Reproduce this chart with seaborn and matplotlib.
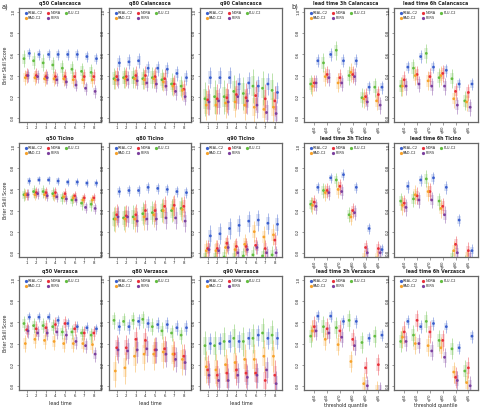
import numpy as np
import pandas as pd
import matplotlib
matplotlib.use("Agg")
import matplotlib.pyplot as plt
import seaborn as sns

# categories
lead_times = [1, 2, 3, 4, 5, 6, 7, 8]
quantiles = ["q50", "q60", "q70", "q80", "q90", "q95"]
series = ["REAL-C2", "NORA", "PLU-C2", "RAD-C2", "PERS"]
colors = {"REAL-C2": "#3a5fcd", "NORA": "#e8303a", "PLU-C2": "#62bd3f",
          "RAD-C2": "#f7a22a", "PERS": "#7b3f9e"}
dodge_order = ["PLU-C2", "RAD-C2", "NORA", "PERS", "REAL-C2"]

# a) Brier skill score vs lead time (median per lead time)
q50_calancasca = {"REAL-C2": [0.61, 0.60, 0.60, 0.60, 0.60, 0.60, 0.58, 0.56],
                  "NORA":    [0.40, 0.40, 0.39, 0.39, 0.39, 0.39, 0.39, 0.39],
                  "PLU-C2":  [0.56, 0.54, 0.52, 0.50, 0.47, 0.46, 0.44, 0.43],
                  "RAD-C2":  [0.38, 0.38, 0.37, 0.37, 0.37, 0.36, 0.36, 0.36],
                  "PERS":    [0.40, 0.39, 0.38, 0.36, 0.34, 0.31, 0.28, 0.25]}
q80_calancasca = {"REAL-C2": [0.52, 0.53, 0.54, 0.47, 0.47, 0.46, 0.42, 0.38],
                  "NORA":    [0.39, 0.39, 0.40, 0.40, 0.39, 0.37, 0.32, 0.27],
                  "PLU-C2":  [0.37, 0.38, 0.38, 0.37, 0.38, 0.36, 0.32, 0.30],
                  "RAD-C2":  [0.36, 0.37, 0.37, 0.36, 0.37, 0.34, 0.30, 0.26],
                  "PERS":    [0.36, 0.36, 0.35, 0.33, 0.32, 0.30, 0.25, 0.20]}
q90_calancasca = {"REAL-C2": [0.38, 0.38, 0.38, 0.32, 0.33, 0.30, 0.32, 0.24],
                  "NORA":    [0.17, 0.18, 0.19, 0.22, 0.19, 0.21, 0.18, 0.16],
                  "PLU-C2":  [0.18, 0.20, 0.20, 0.25, 0.23, 0.30, 0.28, 0.26],
                  "RAD-C2":  [0.12, 0.12, 0.14, 0.15, 0.12, 0.10, 0.08, 0.10],
                  "PERS":    [0.15, 0.16, 0.15, 0.20, 0.16, 0.12, 0.05, 0.04]}
q50_ticino = {"REAL-C2": [0.68, 0.69, 0.69, 0.68, 0.67, 0.67, 0.66, 0.66],
              "NORA":    [0.55, 0.57, 0.57, 0.57, 0.56, 0.54, 0.52, 0.52],
              "PLU-C2":  [0.55, 0.58, 0.58, 0.56, 0.52, 0.50, 0.47, 0.46],
              "RAD-C2":  [0.55, 0.55, 0.55, 0.54, 0.53, 0.52, 0.50, 0.50],
              "PERS":    [0.55, 0.56, 0.54, 0.53, 0.51, 0.50, 0.43, 0.42]}
q80_ticino = {"REAL-C2": [0.58, 0.59, 0.59, 0.62, 0.61, 0.60, 0.58, 0.57],
              "NORA":    [0.36, 0.35, 0.36, 0.40, 0.40, 0.44, 0.45, 0.44],
              "PLU-C2":  [0.32, 0.33, 0.34, 0.37, 0.38, 0.40, 0.40, 0.42],
              "RAD-C2":  [0.32, 0.32, 0.32, 0.34, 0.36, 0.40, 0.42, 0.41],
              "PERS":    [0.34, 0.34, 0.30, 0.32, 0.32, 0.33, 0.33, 0.30]}
q90_ticino = {"REAL-C2": [0.16, 0.18, 0.23, 0.26, 0.30, 0.31, 0.28, 0.27],
              "NORA":    [0.04, 0.04, 0.09, 0.06, 0.06, 0.07, 0.04, 0.12],
              "PLU-C2":  [-0.05, -0.05, -0.04, -0.05, -0.03, -0.02, -0.03, -0.02],
              "RAD-C2":  [0.02, 0.02, 0.05, 0.03, 0.08, 0.20, 0.15, 0.17],
              "PERS":    [0.03, 0.02, 0.05, 0.00, 0.03, 0.05, 0.00, 0.00]}
q50_verzasca = {"REAL-C2": [0.65, 0.65, 0.65, 0.62, 0.59, 0.56, 0.55, 0.54],
                "NORA":    [0.53, 0.54, 0.55, 0.58, 0.59, 0.54, 0.50, 0.50],
                "PLU-C2":  [0.59, 0.57, 0.57, 0.56, 0.51, 0.51, 0.50, 0.48],
                "RAD-C2":  [0.40, 0.44, 0.43, 0.42, 0.40, 0.40, 0.40, 0.39],
                "PERS":    [0.52, 0.50, 0.50, 0.51, 0.48, 0.42, 0.38, 0.30]}
q80_verzasca = {"REAL-C2": [0.56, 0.56, 0.61, 0.59, 0.58, 0.58, 0.55, 0.55],
                "NORA":    [0.36, 0.36, 0.44, 0.43, 0.34, 0.35, 0.30, 0.28],
                "PLU-C2":  [0.62, 0.61, 0.62, 0.63, 0.56, 0.52, 0.50, 0.48],
                "RAD-C2":  [0.14, 0.17, 0.28, 0.30, 0.30, 0.32, 0.30, 0.25],
                "PERS":    [0.34, 0.33, 0.34, 0.35, 0.34, 0.30, 0.25, 0.22]}
q90_verzasca = {"REAL-C2": [0.40, 0.40, 0.42, 0.42, 0.45, 0.48, 0.45, 0.45],
                "NORA":    [0.15, 0.10, 0.12, 0.15, 0.12, 0.12, 0.05, 0.10],
                "PLU-C2":  [0.38, 0.38, 0.42, 0.45, 0.42, 0.45, 0.50, 0.48],
                "RAD-C2":  [0.18, 0.15, 0.20, 0.22, 0.25, 0.25, 0.28, 0.28],
                "PERS":    [0.10, 0.05, 0.05, 0.10, 0.08, 0.10, 0.15, 0.02]}

# b) Brier skill score vs threshold quantile
lt3_calancasca = {"REAL-C2": [0.54, 0.60, 0.54, 0.54, 0.29, 0.29],
                  "NORA":    [0.33, 0.41, 0.38, 0.41, 0.20, 0.22],
                  "PLU-C2":  [0.32, 0.52, 0.64, 0.40, 0.19, 0.29],
                  "RAD-C2":  [0.30, 0.39, 0.33, 0.43, 0.18, 0.16],
                  "PERS":    [0.33, 0.38, 0.33, 0.39, 0.15, 0.12]}
lt6_calancasca = {"REAL-C2": [0.48, 0.58, 0.48, 0.45, 0.32, 0.32],
                  "NORA":    [0.36, 0.41, 0.39, 0.42, 0.25, 0.24],
                  "PLU-C2":  [0.30, 0.47, 0.61, 0.38, 0.37, 0.16],
                  "RAD-C2":  [0.30, 0.40, 0.35, 0.40, 0.18, 0.15],
                  "PERS":    [0.30, 0.32, 0.30, 0.30, 0.12, 0.10]}
lt3_ticino = {"REAL-C2": [0.62, 0.71, 0.74, 0.62, 0.23, 0.03],
              "NORA":    [0.48, 0.59, 0.63, 0.40, 0.05, 0.04],
              "PLU-C2":  [0.46, 0.59, 0.69, 0.36, -0.10, -0.10],
              "RAD-C2":  [0.45, 0.57, 0.60, 0.34, -0.05, -0.05],
              "PERS":    [0.44, 0.57, 0.58, 0.38, 0.00, 0.00]}
lt6_ticino = {"REAL-C2": [0.63, 0.69, 0.71, 0.62, 0.31, 0.02],
              "NORA":    [0.47, 0.54, 0.58, 0.44, 0.08, 0.02],
              "PLU-C2":  [0.49, 0.51, 0.70, 0.49, -0.05, -0.10],
              "RAD-C2":  [0.45, 0.55, 0.58, 0.42, 0.02, -0.05],
              "PERS":    [0.43, 0.50, 0.50, 0.36, 0.00, -0.05]}
lt3_verzasca = {"REAL-C2": [0.66, 0.66, 0.61, 0.61, 0.45, 0.48],
                "NORA":    [0.56, 0.54, 0.52, 0.44, 0.17, 0.20],
                "PLU-C2":  [0.47, 0.56, 0.55, 0.62, 0.41, 0.47],
                "RAD-C2":  [0.52, 0.44, 0.39, 0.23, 0.02, -0.05],
                "PERS":    [0.52, 0.50, 0.46, 0.38, 0.00, -0.05]}
lt6_verzasca = {"REAL-C2": [0.61, 0.56, 0.59, 0.56, 0.36, 0.47],
                "NORA":    [0.51, 0.62, 0.51, 0.43, 0.08, 0.17],
                "PLU-C2":  [0.42, 0.48, 0.61, 0.43, 0.35, 0.14],
                "RAD-C2":  [0.46, 0.40, 0.38, 0.36, 0.13, 0.03],
                "PERS":    [0.42, 0.40, 0.33, 0.27, 0.05, 0.00]}

# approximate half-width of the uncertainty whiskers per panel
# (order: REAL-C2, NORA, PLU-C2, RAD-C2, PERS)
spread = {"q50 Calancasca": [0.05, 0.07, 0.08, 0.07, 0.06],
          "q80 Calancasca": [0.07, 0.09, 0.10, 0.09, 0.08],
          "q90 Calancasca": [0.10, 0.14, 0.16, 0.14, 0.12],
          "q50 Ticino": [0.04, 0.05, 0.06, 0.05, 0.05],
          "q80 Ticino": [0.05, 0.10, 0.11, 0.12, 0.10],
          "q90 Ticino": [0.10, 0.08, 0.08, 0.10, 0.06],
          "q50 Verzasca": [0.05, 0.07, 0.07, 0.08, 0.07],
          "q80 Verzasca": [0.07, 0.12, 0.08, 0.15, 0.12],
          "q90 Verzasca": [0.10, 0.14, 0.14, 0.15, 0.12],
          "lead time 3h Calancasca": [0.06, 0.08, 0.09, 0.09, 0.08],
          "lead time 6h Calancasca": [0.06, 0.08, 0.09, 0.09, 0.08],
          "lead time 3h Ticino": [0.05, 0.07, 0.07, 0.08, 0.07],
          "lead time 6h Ticino": [0.06, 0.08, 0.08, 0.09, 0.08],
          "lead time 3h Verzasca": [0.06, 0.10, 0.10, 0.10, 0.09],
          "lead time 6h Verzasca": [0.06, 0.10, 0.10, 0.10, 0.09]}

panels_a = [["q50 Calancasca", q50_calancasca], ["q80 Calancasca", q80_calancasca], ["q90 Calancasca", q90_calancasca],
            ["q50 Ticino", q50_ticino], ["q80 Ticino", q80_ticino], ["q90 Ticino", q90_ticino],
            ["q50 Verzasca", q50_verzasca], ["q80 Verzasca", q80_verzasca], ["q90 Verzasca", q90_verzasca]]
panels_b = [["lead time 3h Calancasca", lt3_calancasca], ["lead time 6h Calancasca", lt6_calancasca],
            ["lead time 3h Ticino", lt3_ticino], ["lead time 6h Ticino", lt6_ticino],
            ["lead time 3h Verzasca", lt3_verzasca], ["lead time 6h Verzasca", lt6_verzasca]]

sns.set_style("ticks")
plt.rcParams['font.family'] = ['DejaVu Sans']

W, H = 481, 408
fig = plt.figure(figsize=(W / 100, H / 100), dpi=100)


def make_ax(left, top, width, height):
    return fig.add_axes([left / W, 1 - (top + height) / H, width / W, height / H])


def draw_panel(ax, title, values, cats, rotate):
    n = len(cats)
    xs = np.arange(1, n + 1)
    offsets = dict(zip(dodge_order, np.linspace(-0.28, 0.28, len(dodge_order))))
    rows = []
    for k, s in enumerate(series):
        for i, v in enumerate(values[s]):
            rows.append({"x": xs[i] + offsets[s], "bss": v, "series": s,
                         "sp": spread[title][k]})
    df = pd.DataFrame(rows)
    for s in series:
        d = df[df["series"] == s]
        ax.vlines(d["x"], d["bss"] - d["sp"], d["bss"] + d["sp"],
                  color=colors[s], lw=0.5, alpha=0.6, zorder=2)
        ax.vlines(d["x"], d["bss"] - 0.6 * d["sp"], d["bss"] + 0.6 * d["sp"],
                  color=colors[s], lw=2.6, alpha=0.2, zorder=1)
    sns.scatterplot(data=df, x="x", y="bss", hue="series", hue_order=series,
                    palette=colors, s=4, linewidth=0, legend=False, ax=ax, zorder=3)
    ax.set_xlim(0.2, n + 0.75)
    ax.set_ylim(-0.04, 1.04)
    ax.set_xticks(xs)
    ax.set_xticklabels(cats, fontsize=2.8, rotation=90 if rotate else 0)
    ax.set_yticks([0, 0.2, 0.4, 0.6, 0.8, 1.0])
    ax.set_yticklabels(["0.0", "0.2", "0.4", "0.6", "0.8", "1.0"], fontsize=2.8,
                       rotation=90, va="center")
    ax.tick_params(length=1.8, width=0.4, pad=1.0, color="#555555")
    ax.set_xlabel("")
    ax.set_ylabel("")
    ax.set_title(title, fontsize=3.4, fontweight="bold", pad=2.5)
    for sp in ax.spines.values():
        sp.set_visible(True)
        sp.set_linewidth(0.9)
        sp.set_color("#666666")
    order = ["REAL-C2", "RAD-C2", "NORA", "PERS", "PLU-C2"]
    handles = [plt.Line2D([], [], marker="o", ls="", ms=1.3, color=colors[s]) for s in order]
    ax.legend(handles, order, ncol=3, loc="upper left", fontsize=2.5, frameon=False,
              handletextpad=0.2, columnspacing=1.2, labelspacing=0.15,
              borderaxespad=0.6, handlelength=0.8, bbox_to_anchor=(0.02, 1.0))


row_tops = [8, 143, 276]
a_lefts = [19, 109, 200]
b_lefts = [304, 394]
ph = 114

for idx, (title, vals) in enumerate(panels_a):
    r, c = divmod(idx, 3)
    ax = make_ax(a_lefts[c], row_tops[r], 82, ph)
    draw_panel(ax, title, vals, [str(t) for t in lead_times], False)
    if c == 0:
        ax.set_ylabel("Brier Skill Score", fontsize=3.4, labelpad=2)
    if r == 2:
        ax.set_xlabel("lead time", fontsize=3.4, labelpad=2)

for idx, (title, vals) in enumerate(panels_b):
    r, c = divmod(idx, 2)
    ax = make_ax(b_lefts[c], row_tops[r], 84, ph)
    draw_panel(ax, title, vals, quantiles, True)
    if r == 2:
        ax.set_xlabel("threshold quantile", fontsize=3.4, labelpad=1.5)

fig.text(2 / W, 1 - 9 / H, "a)", fontsize=4.8)
fig.text(291 / W, 1 - 9 / H, "b)", fontsize=4.8)

fig.savefig("out.png", dpi=100)
